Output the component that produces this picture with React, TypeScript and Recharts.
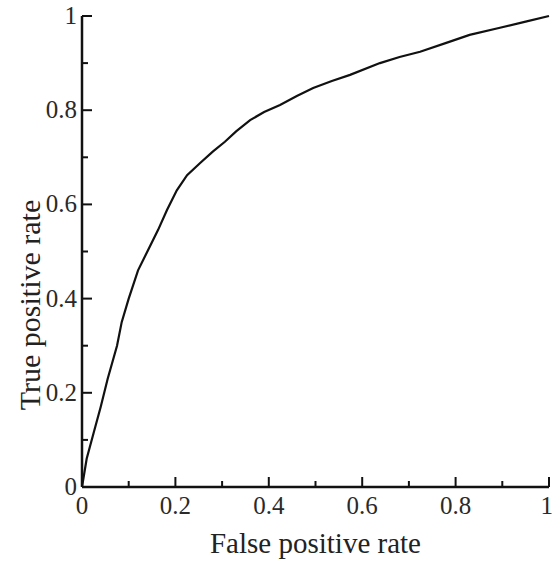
import React from 'react';
import { LineChart, Line, XAxis, YAxis } from 'recharts';

const fpr = [0, 0.01, 0.025, 0.04, 0.055, 0.075, 0.085, 0.1, 0.12, 0.14, 0.163, 0.182, 0.203, 0.225, 0.253, 0.28, 0.306, 0.33, 0.36, 0.39, 0.424, 0.46, 0.495, 0.535, 0.574, 0.638, 0.68, 0.724, 0.78, 0.83, 0.895, 0.95, 1];
const tpr = [0, 0.06, 0.115, 0.17, 0.23, 0.3, 0.35, 0.4, 0.46, 0.5, 0.546, 0.588, 0.63, 0.662, 0.688, 0.712, 0.733, 0.755, 0.779, 0.796, 0.811, 0.83, 0.847, 0.862, 0.875, 0.9, 0.913, 0.924, 0.943, 0.96, 0.975, 0.988, 1];
const ticks = [0, 0.1, 0.2, 0.3, 0.4, 0.5, 0.6, 0.7, 0.8, 0.9, 1];
const labels = ['0', '', '0.2', '', '0.4', '', '0.6', '', '0.8', '', '1'];

const rocData = fpr.map((x, i) => ({ fpr: x, tpr: tpr[i] }));

const FONT = 'Liberation Serif, Times New Roman, serif';
const TICK_FILL = '#2a2a2a';

const tickLen = (i: number) => (i % 2 === 0 ? 10 : 6);

// ticks drawn pointing into the plot, like the original frame
const BottomTick = (props: any) => {
  const { x, y, index } = props;
  const last = index === ticks.length - 1;
  return (
    <g fontFamily={FONT}>
      <line x1={x} y1={y} x2={x} y2={y - tickLen(index)} stroke="#111" strokeWidth={2} />
      <text
        x={last ? x + 4 : x}
        y={y + 27}
        textAnchor={last ? 'end' : 'middle'}
        fontFamily={FONT}
        fontSize={25}
        fill={TICK_FILL}
        style={{ fontFamily: FONT }}
      >
        {labels[index]}
      </text>
    </g>
  );
};

const TopTick = (props: any) => {
  const { x, y, index } = props;
  return <line x1={x} y1={y} x2={x} y2={y + tickLen(index)} stroke="#111" strokeWidth={2} />;
};

const LeftTick = (props: any) => {
  const { x, y, index } = props;
  return (
    <g fontFamily={FONT}>
      <line x1={x} y1={y} x2={x + tickLen(index)} y2={y} stroke="#111" strokeWidth={2} />
      <text
        x={x - 5}
        y={y + 8}
        textAnchor="end"
        fontFamily={FONT}
        fontSize={25}
        fill={TICK_FILL}
        style={{ fontFamily: FONT }}
      >
        {labels[index]}
      </text>
    </g>
  );
};

const RightTick = (props: any) => {
  const { x, y, index } = props;
  return <line x1={x} y1={y} x2={x - tickLen(index)} y2={y} stroke="#111" strokeWidth={2} />;
};

export default function App() {
  return (
    <div style={{ position: 'absolute', left: 0, top: 0, background: '#fff', fontFamily: FONT }}>
      <LineChart
        width={553}
        height={569}
        data={rocData}
        margin={{ top: 16, right: 4, bottom: 22, left: 22 }}
        style={{ fontFamily: FONT }}
      >
        <XAxis
          xAxisId="bottom"
          dataKey="fpr"
          type="number"
          domain={[0, 1]}
          ticks={ticks}
          interval={0}
          tickSize={0}
          tickMargin={0}
          tickLine={false}
          tick={<BottomTick />}
          height={60}
          axisLine={{ stroke: '#111', strokeWidth: 2.5 }}
        />
        <XAxis
          xAxisId="top"
          orientation="top"
          dataKey="fpr"
          type="number"
          domain={[0, 1]}
          ticks={ticks}
          interval={0}
          tickSize={0}
          tickMargin={0}
          tickLine={false}
          tick={<TopTick />}
          height={0}
          axisLine={{ stroke: '#111', strokeWidth: 2.5 }}
        />
        <YAxis
          yAxisId="left"
          type="number"
          domain={[0, 1]}
          ticks={ticks}
          interval={0}
          tickSize={0}
          tickMargin={0}
          tickLine={false}
          tick={<LeftTick />}
          width={60}
          axisLine={{ stroke: '#111', strokeWidth: 2.5 }}
        />
        <YAxis
          yAxisId="right"
          orientation="right"
          type="number"
          domain={[0, 1]}
          ticks={ticks}
          interval={0}
          tickSize={0}
          tickMargin={0}
          tickLine={false}
          tick={<RightTick />}
          width={0}
          axisLine={{ stroke: '#111', strokeWidth: 2.5 }}
        />
        <Line
          xAxisId="bottom"
          yAxisId="left"
          type="linear"
          dataKey="tpr"
          stroke="#111"
          strokeWidth={2.2}
          dot={false}
          isAnimationActive={false}
        />
        <Line
          xAxisId="top"
          yAxisId="right"
          type="linear"
          dataKey="tpr"
          stroke="none"
          dot={false}
          isAnimationActive={false}
        />
      </LineChart>
      <div
        style={{
          position: 'absolute',
          left: 82,
          width: 467,
          top: 527,
          textAlign: 'center',
          fontSize: 29,
          color: '#222',
        }}
      >
        False positive rate
      </div>
      <div
        style={{
          position: 'absolute',
          left: 30,
          top: 305,
          transform: 'translate(-50%, -50%) rotate(-90deg)',
          whiteSpace: 'nowrap',
          fontSize: 30,
          color: '#222',
        }}
      >
        True positive rate
      </div>
    </div>
  );
}
